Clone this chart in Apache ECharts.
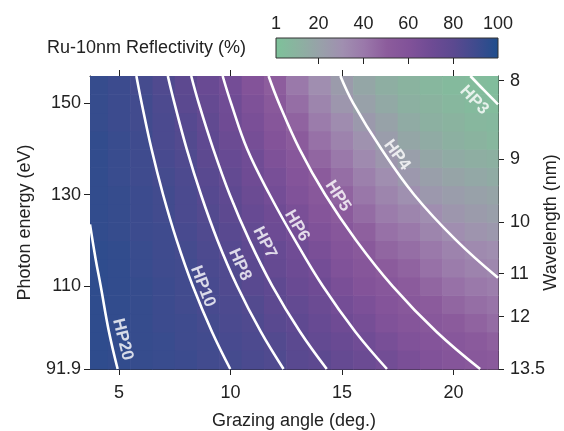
<!DOCTYPE html>
<html>
<head>
<meta charset="utf-8">
<script src="https://cdn.jsdelivr.net/npm/echarts@6/dist/echarts.min.js"></script>
<style>
  html, body { margin: 0; padding: 0; background: #fff; }
  #chart { width: 564px; height: 431px; }
</style>
</head>
<body>
<div id="chart"></div>
<script>
// Ru-10nm reflectivity map: columns = grazing angle (deg), rows = photon energy (eV)
const HC = 1239.84; // eV*nm

const angles = [4, 5, 6, 7, 8, 9, 10, 11, 12, 13, 14, 15, 16, 17, 18, 19, 20, 21, 22];
const energies = [94, 98, 102, 106, 110, 114, 118, 122, 126, 130, 134, 138, 142, 146, 150, 154];

// reflectivity (%), one row per energy above
const refl94  = [95, 94, 93, 92, 91, 89, 88, 86, 84, 81, 79, 75, 72, 68, 64, 60, 57, 54, 52];
const refl98  = [95, 94, 93, 92, 90, 89, 87, 85, 83, 80, 76, 73, 69, 65, 61, 58, 55, 52, 49];
const refl102 = [95, 94, 93, 91, 90, 88, 86, 84, 81, 78, 74, 70, 66, 61, 57, 54, 51, 48, 45];
const refl106 = [95, 94, 93, 91, 89, 87, 85, 83, 79, 76, 72, 67, 63, 58, 54, 51, 47, 44, 42];
const refl110 = [95, 94, 93, 91, 89, 87, 84, 81, 78, 73, 70, 64, 59, 55, 51, 47, 43, 40, 38];
const refl114 = [95, 94, 92, 90, 89, 86, 84, 80, 75, 71, 67, 61, 56, 51, 48, 43, 39, 36, 34];
const refl118 = [95, 94, 92, 90, 88, 85, 82, 78, 74, 69, 64, 58, 53, 47, 44, 40, 36, 33, 31];
const refl122 = [94, 93, 91, 90, 87, 84, 81, 76, 71, 67, 61, 55, 49, 43, 40, 35, 31, 28, 26];
const refl126 = [94, 93, 91, 89, 86, 83, 79, 74, 70, 64, 57, 51, 45, 39, 35, 31, 27, 24, 22];
const refl130 = [94, 93, 91, 89, 86, 82, 78, 72, 67, 61, 54, 48, 41, 35, 30, 26, 23, 21, 19];
const refl134 = [94, 92, 90, 88, 85, 81, 76, 70, 65, 58, 51, 44, 37, 31, 26, 22, 19, 17, 15];
const refl138 = [94, 92, 90, 87, 84, 79, 74, 69, 62, 55, 47, 40, 33, 27, 22, 18, 15, 13, 12];
const refl142 = [94, 92, 90, 86, 83, 78, 72, 66, 59, 51, 43, 36, 29, 23, 18, 15, 12, 10, 8];
const refl146 = [93, 91, 89, 86, 82, 77, 70, 64, 56, 48, 39, 32, 25, 20, 15, 12, 10, 8, 7];
const refl150 = [93, 91, 89, 85, 80, 75, 69, 62, 53, 44, 35, 27, 21, 16, 12, 10, 8, 6, 5];
const refl154 = [93, 91, 88, 84, 79, 73, 67, 59, 50, 40, 31, 24, 18, 13, 10, 8, 6, 5, 4];
const reflRows = [refl94, refl98, refl102, refl106, refl110, refl114, refl118, refl122,
                  refl126, refl130, refl134, refl138, refl142, refl146, refl150, refl154];

// HP curves, [angle, energy] pairs
const hpNames = ['HP3', 'HP4', 'HP5', 'HP6', 'HP7', 'HP8', 'HP10', 'HP20'];
const hp3  = [[20.76, 156], [21.35, 153], [22.0, 149.8]];
const hp4  = [[14.93, 156], [15.51, 150], [16.77, 140], [18.24, 130], [20.13, 120], [22.0, 111.8]];
const hp5  = [[11.71, 156], [12.18, 150], [13.10, 140], [14.25, 130], [15.64, 120], [17.27, 110], [19.24, 100], [21.20, 91.84]];
const hp6  = [[9.65, 156], [10.03, 150], [10.75, 140], [11.76, 130], [12.90, 120], [14.14, 110], [15.60, 100], [17.02, 91.84]];
const hp7  = [[8.24, 156], [8.58, 150], [9.23, 140], [9.97, 130], [10.85, 120], [11.88, 110], [13.12, 100], [14.32, 91.84]];
const hp8  = [[7.19, 156], [7.49, 150], [8.04, 140], [8.68, 130], [9.42, 120], [10.30, 110], [11.36, 100], [12.38, 91.84]];
const hp10 = [[5.78, 156], [6.02, 150], [6.46, 140], [6.98, 130], [7.59, 120], [8.31, 110], [9.17, 100], [9.99, 91.84]];
const hp20 = [[3.70, 123.5], [3.95, 116], [4.18, 110], [4.55, 100], [4.94, 91.84]];
const hpCurves = [hp3, hp4, hp5, hp6, hp7, hp8, hp10, hp20];

// label anchor [angle, energy] and text angle for each curve
const hpLabelPos = [[20.93, 150.7], [17.47, 138.7], [14.82, 129.7], [12.98, 123.2],
                    [11.54, 119.5], [10.42, 114.7], [8.76, 109.9], [5.17, 98.3]];
const hpLabelRot = [-46, -54, -57, -60, -63, -66, -69, -76];

// axes
const angleMin = 3.7, angleMax = 22;
const energyMin = HC / 13.5, energyMax = 156;
const angleTicks = [5, 10, 15, 20];
const energyTicks = [energyMin, 110, 130, 150];
const energyTickLabels = ['91.9', '110', '130', '150'];
const wavelengthTicks = [8, 9, 10, 11, 12, 13.5];
const cbarLabelTicks = [1, 20, 40, 60, 80, 100];
const cbarTicks = [20, 40, 60, 80];

const cmap = ['#7dc29a', '#8bb2a0', '#98a1a9', '#a08fb0', '#9a78aa', '#8c5c9c',
              '#815299', '#6e4b94', '#5b4990', '#3f4b8e', '#1f4e8c'];

const FONT = 'Liberation Sans, Arial, Helvetica, sans-serif';
const INK = '#222';

function edges(centers, lo, hi) {
    let e = [lo];
    for (let i = 1; i < centers.length; i++) {
        e.push((centers[i - 1] + centers[i]) / 2);
    }
    e.push(hi);
    return e;
}

function buildCells() {
    const xe = edges(angles, angleMin, angleMax);
    const ye = edges(energies, energyMin, energyMax);
    let cells = [];
    reflRows.forEach(function (row, j) {
        row.forEach(function (r, i) {
            cells.push([xe[i], xe[i + 1], ye[j], ye[j + 1], r]);
        });
    });
    return cells;
}

function renderCell(params, api) {
    const a = api.coord([api.value(0), api.value(3)]);
    const b = api.coord([api.value(1), api.value(2)]);
    return {
        type: 'rect',
        shape: { x: a[0], y: a[1], width: b[0] - a[0] + 0.6, height: b[1] - a[1] + 0.6 },
        style: { fill: api.visual('color') }
    };
}

function gradientStops() {
    return cmap.map(function (c, i) {
        return { offset: i / (cmap.length - 1), color: c };
    });
}

const tickStyle = { color: INK, width: 1 };
const labelFont = { color: INK, fontSize: 18, fontFamily: FONT };

let series = [{
    type: 'custom',
    renderItem: renderCell,
    data: buildCells(),
    encode: { x: [0, 1], y: [2, 3] },
    silent: true,
    z: 1
}];

hpCurves.forEach(function (pts, k) {
    series.push({
        name: hpNames[k],
        type: 'line',
        data: pts,
        smooth: 0.4,
        symbol: 'none',
        clip: true,
        silent: true,
        lineStyle: { color: '#fff', width: 2.6 },
        z: 3
    });
});

series.push({
    type: 'scatter',
    symbolSize: 1,
    itemStyle: { color: 'rgba(0,0,0,0)' },
    silent: true,
    z: 4,
    data: hpLabelPos.map(function (p, k) {
        return {
            value: p,
            label: {
                show: true,
                formatter: hpNames[k],
                rotate: hpLabelRot[k],
                position: 'inside',
                align: 'center',
                verticalAlign: 'middle',
                color: '#fff',
                fontSize: 17,
                fontWeight: 'bold',
                fontFamily: FONT
            }
        };
    })
});

const option = {
    animation: false,
    backgroundColor: '#fff',
    title: {
        text: 'Ru-10nm Reflectivity (%)',
        left: 47,
        top: 39,
        padding: 0,
        textStyle: { color: INK, fontSize: 18, fontWeight: 'normal', fontFamily: FONT }
    },
    visualMap: {
        type: 'continuous',
        show: false,
        min: 1,
        max: 100,
        dimension: 4,
        seriesIndex: 0,
        inRange: { color: cmap }
    },
    grid: [
        { left: 90, top: 76, right: 66, bottom: 62, containLabel: false, outerBoundsMode: 'none' },
        // colour bar
        {
            left: 276, top: 38, width: 222, height: 20, show: true,
            containLabel: false, outerBoundsMode: 'none',
            borderColor: '#333', borderWidth: 1,
            backgroundColor: { type: 'linear', x: 0, y: 0, x2: 1, y2: 0, colorStops: gradientStops() }
        }
    ],
    xAxis: [
        {
            type: 'value', gridIndex: 0, position: 'bottom',
            min: angleMin, max: angleMax,
            name: 'Grazing angle (deg.)', nameLocation: 'middle', nameGap: 43,
            nameTextStyle: labelFont,
            axisLine: { show: true, onZero: false, lineStyle: tickStyle },
            axisTick: { show: true, length: 6, customValues: angleTicks, lineStyle: tickStyle },
            axisLabel: Object.assign({ customValues: angleTicks, margin: 15 }, labelFont),
            splitLine: { show: false }
        },
        {
            type: 'value', gridIndex: 0, position: 'top',
            min: angleMin, max: angleMax,
            axisLine: { show: true, onZero: false, lineStyle: tickStyle },
            axisTick: { show: true, length: 6, customValues: angleTicks, lineStyle: tickStyle },
            axisLabel: { show: false },
            splitLine: { show: false }
        },
        {
            type: 'value', gridIndex: 1, position: 'top',
            min: 1, max: 100,
            axisLine: { show: false },
            axisTick: { show: true, inside: true, length: 6, customValues: cbarTicks, lineStyle: tickStyle },
            axisLabel: Object.assign({ customValues: cbarLabelTicks, margin: 5 }, labelFont),
            splitLine: { show: false }
        }
    ],
    yAxis: [
        {
            type: 'value', gridIndex: 0, position: 'left',
            min: energyMin, max: energyMax,
            name: 'Photon energy (eV)', nameLocation: 'middle', nameGap: 56, nameRotate: 90,
            nameTextStyle: labelFont,
            axisLine: { show: true, onZero: false, lineStyle: tickStyle },
            axisTick: { show: true, length: 6, customValues: energyTicks, lineStyle: tickStyle },
            axisLabel: Object.assign({
                customValues: energyTicks,
                margin: 9,
                formatter: function (v) {
                    const i = energyTicks.findIndex(function (t) { return Math.abs(t - v) < 0.01; });
                    return i >= 0 ? energyTickLabels[i] : '';
                }
            }, labelFont),
            splitLine: { show: false }
        },
        {
            type: 'value', gridIndex: 0, position: 'right',
            min: energyMin, max: energyMax,
            name: 'Wavelength (nm)', nameLocation: 'middle', nameGap: 44, nameRotate: 90,
            nameMoveOverlap: false,
            nameTextStyle: labelFont,
            axisLine: { show: true, onZero: false, lineStyle: tickStyle },
            axisTick: { show: true, length: 6, customValues: wavelengthTicks.map(function (l) { return HC / l; }), lineStyle: tickStyle },
            axisLabel: Object.assign({
                customValues: wavelengthTicks.map(function (l) { return HC / l; }),
                margin: 12,
                formatter: function (v) { return String(+(HC / v).toFixed(1)); }
            }, labelFont),
            splitLine: { show: false }
        },
        {
            type: 'value', gridIndex: 1, min: 0, max: 1, show: false
        }
    ],
    series: series
};

const chart = echarts.init(document.getElementById('chart'), null, { renderer: 'canvas' });
chart.setOption(option);
</script>
</body>
</html>
